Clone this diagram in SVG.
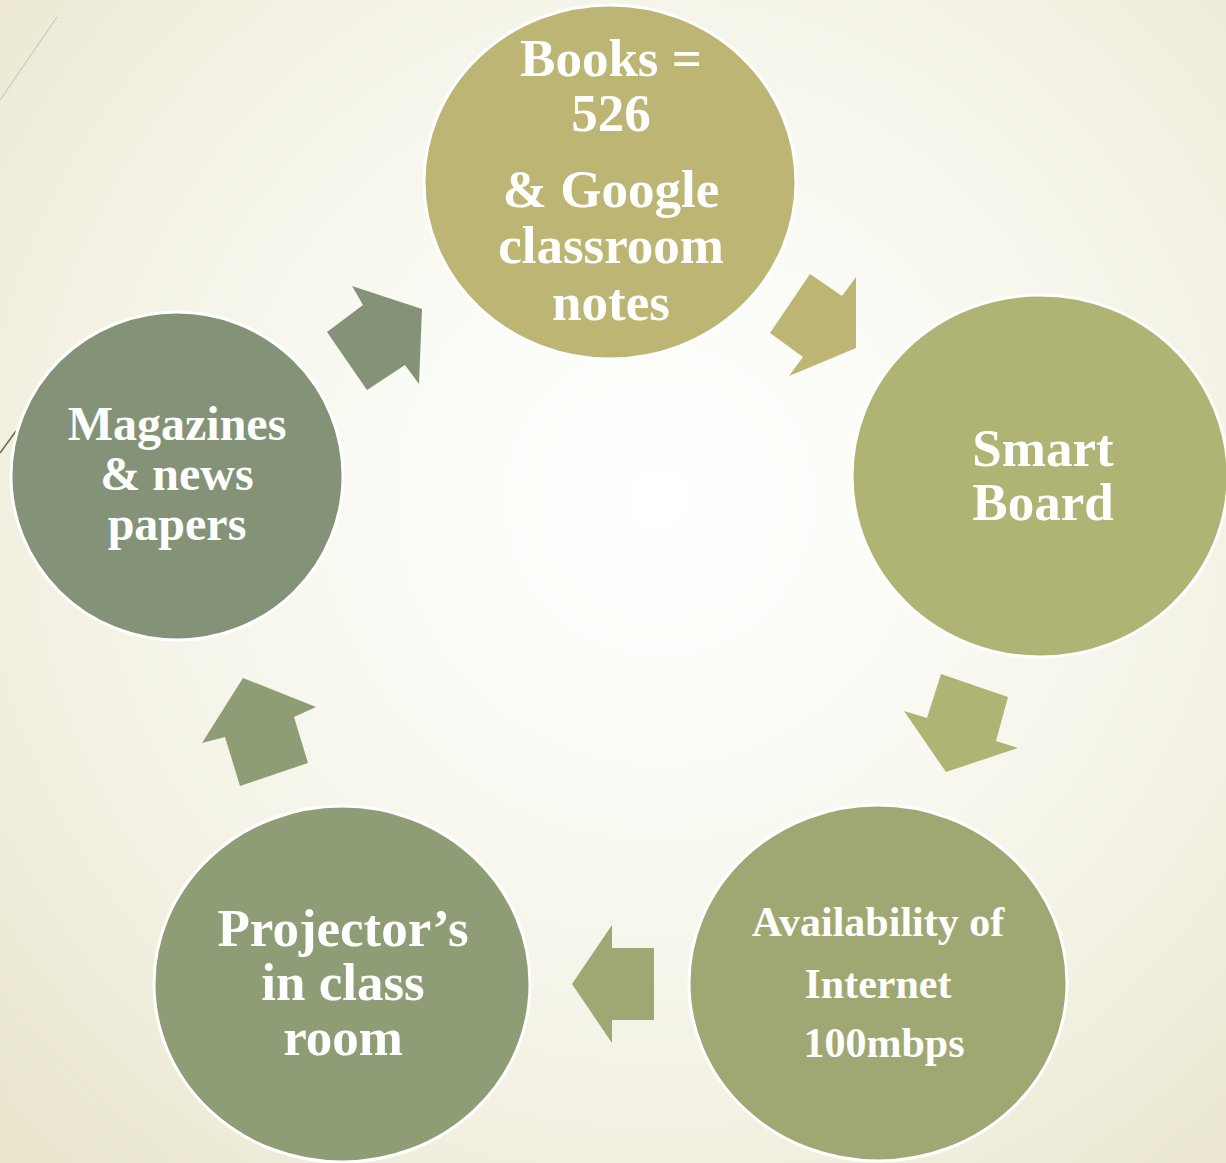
<svg xmlns="http://www.w3.org/2000/svg" width="1226" height="1163" viewBox="0 0 1226 1163">
<defs>
<radialGradient id="bg" gradientUnits="userSpaceOnUse" cx="660" cy="500" r="900">
<stop offset="0" stop-color="#FFFFFF"/>
<stop offset="0.3" stop-color="#FBFBF6"/>
<stop offset="0.72" stop-color="#F2F0E1"/>
<stop offset="1" stop-color="#E9E5CD"/>
</radialGradient>
<style>
.node{stroke:#FFFFFF;stroke-width:3}
.t{font-family:"Liberation Serif","Times New Roman",serif;font-weight:bold;fill:#FFFFFF;text-anchor:middle}
</style>
</defs>
<rect x="0" y="0" width="1226" height="1163" fill="url(#bg)"/>
<line x1="57" y1="17" x2="0" y2="100" stroke="#C9C9BA" stroke-width="1.2"/>
<line x1="16" y1="431" x2="0" y2="453" stroke="#5E6E4C" stroke-width="1.5"/>
<g id="connectors">
<polygon points="810,274 842,296 856,277 856,348 789,376 803,357 770,333" fill="#BDB574"/>
<polygon points="941,674 1008,697 996,741 1018,748 946,772 904,711 927,718" fill="#AFB474"/>
<polygon points="612,925 612,948 654,948 654,1020 612,1020 612,1043 572,984" fill="#9FA873"/>
<polygon points="243,678 316,707 294,717 308,763 240,786 225,737 202,743" fill="#8E9D75"/>
<polygon points="352,286 422,309 419,384 405,365 367,390 327,332 363,305" fill="#849377"/>
</g>
<g id="node-books">
<ellipse class="node" cx="610" cy="182" rx="186" ry="177" fill="#BDB574"/>
<text class="t" font-size="53"><tspan x="611" y="76">Books =</tspan><tspan x="611" y="131">526</tspan><tspan x="611" y="207">&amp; Google</tspan><tspan x="611" y="263">classroom</tspan><tspan x="611" y="320">notes</tspan></text>
</g>
<g id="node-smartboard">
<ellipse class="node" cx="1040" cy="476" rx="188" ry="181" fill="#AFB474"/>
<text class="t" font-size="53"><tspan x="1043" y="466">Smart</tspan><tspan x="1043" y="520">Board</tspan></text>
</g>
<g id="node-internet">
<ellipse class="node" cx="878" cy="983" rx="189" ry="178" fill="#9FA873"/>
<text class="t" font-size="42"><tspan x="878" y="936">Availability of</tspan><tspan x="878" y="998">Internet</tspan><tspan x="884" y="1057">100mbps</tspan></text>
</g>
<g id="node-projector">
<ellipse class="node" cx="342" cy="984" rx="188" ry="178" fill="#8E9D75"/>
<text class="t" font-size="53"><tspan x="343" y="946">Projector’s</tspan><tspan x="343" y="1000">in class</tspan><tspan x="343" y="1055">room</tspan></text>
</g>
<g id="node-magazines">
<ellipse class="node" cx="177" cy="476" rx="166" ry="164" fill="#849377"/>
<text class="t" font-size="48"><tspan x="177" y="440">Magazines</tspan><tspan x="177" y="490">&amp; news</tspan><tspan x="177" y="540">papers</tspan></text>
</g>
</svg>
